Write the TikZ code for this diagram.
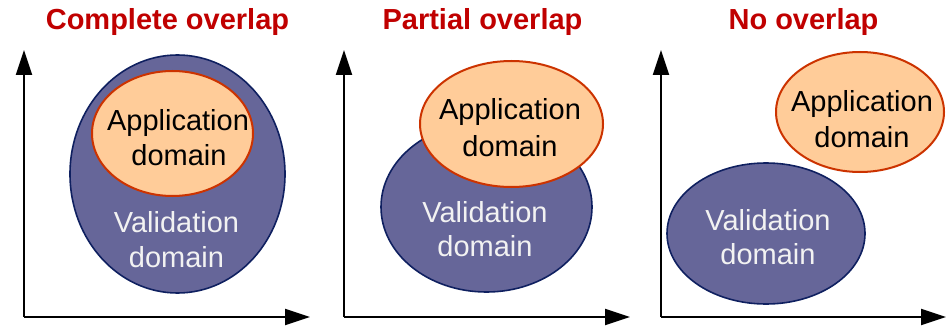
\documentclass[tikz,border=0pt]{standalone}
\usepackage{fontspec}
\setmainfont{Liberation Sans}
\usetikzlibrary{arrows.meta}
\definecolor{titlered}{HTML}{C00000}
\definecolor{valfill}{HTML}{666699}
\definecolor{valedge}{HTML}{0F2060}
\definecolor{appfill}{HTML}{FFCC99}
\definecolor{appedge}{HTML}{CC3300}
\begin{document}
\begin{tikzpicture}[x=1pt,y=-1pt,
  axis/.style={line width=2pt,-{Triangle[length=25pt,width=16pt]}},
  valid/.style={fill=valfill,draw=valedge,line width=1.6pt},
  appl/.style={fill=appfill,draw=appedge,line width=2pt},
  heading/.style={text=titlered,font=\fontsize{29}{35}\selectfont\bfseries,inner sep=0pt,anchor=base},
  lbl/.style={font=\fontsize{29}{35}\selectfont,inner sep=0pt,anchor=base},
  vlbl/.style={lbl,text=white!95!black}]
\useasboundingbox (0,0) rectangle (949,326);

% ---------- Complete overlap ----------
\node[heading] (t1) at (167.5,30) {Complete overlap};
\coordinate (o1) at (24,317);
\coordinate (y1) at (24,50);
\coordinate (x1) at (310,317);
\draw[axis] (o1) -- (y1);
\draw[axis] (o1) -- (x1);
\filldraw[valid] (177.5,174) ellipse [x radius=107.5, y radius=119];
\filldraw[appl] (172.5,133.5) ellipse [x radius=80.5, y radius=62.5];
\node[lbl] (a1a) at (178,130) {Application};
\node[lbl] (a1b) at (179,165) {domain};
\node[vlbl] (v1a) at (176.5,232) {Validation};
\node[vlbl] (v1b) at (176.5,267) {domain};

% ---------- Partial overlap ----------
\node[heading] (t2) at (482.5,30) {Partial overlap};
\coordinate (o2) at (344,317);
\coordinate (y2) at (344,50);
\coordinate (x2) at (630,317);
\draw[axis] (o2) -- (y2);
\draw[axis] (o2) -- (x2);
\filldraw[valid] (486.5,207) ellipse [x radius=105.5, y radius=85];
\filldraw[appl] (511.5,124) ellipse [x radius=91.5, y radius=63];
\node[lbl] (a2a) at (510,120) {Application};
\node[lbl] (a2b) at (510,156) {domain};
\node[vlbl] (v2a) at (485,222) {Validation};
\node[vlbl] (v2b) at (485,256) {domain};

% ---------- No overlap ----------
\node[heading] (t3) at (803.5,30) {No overlap};
\coordinate (o3) at (661,317);
\coordinate (y3) at (661,50);
\coordinate (x3) at (946,317);
\draw[axis] (o3) -- (y3);
\draw[axis] (o3) -- (x3);
\filldraw[valid] (766,233.5) ellipse [x radius=99, y radius=70.5];
\filldraw[appl] (860,112) ellipse [x radius=84, y radius=60];
\node[lbl] (a3a) at (862,112) {Application};
\node[lbl] (a3b) at (862,147) {domain};
\node[vlbl] (v3a) at (768,230) {Validation};
\node[vlbl] (v3b) at (768,264) {domain};
\end{tikzpicture}
\end{document}
